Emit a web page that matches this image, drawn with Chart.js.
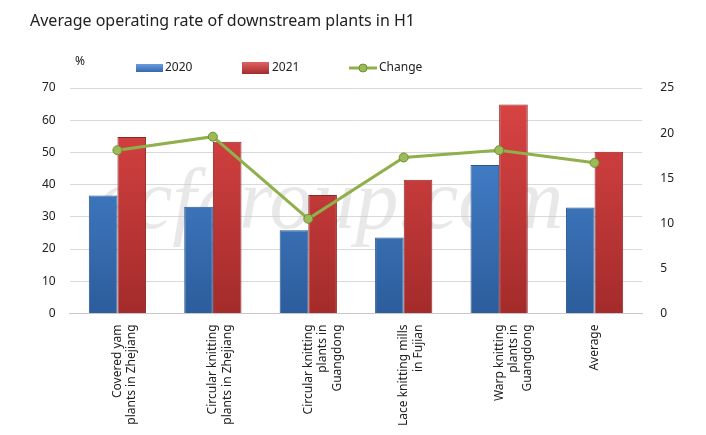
<!DOCTYPE html>
<html>
<head>
<meta charset="utf-8">
<script src="https://cdn.jsdelivr.net/npm/chart.js@4/dist/chart.umd.min.js"></script>
<style>
  body { margin: 0; background: #fff; }
  #wrap { width: 706px; height: 435px; position: relative; }
</style>
</head>
<body>
<div id="wrap"><canvas id="opChart"></canvas></div>
<script>
// values
const categories = [
  ["Covered yam", "plants in Zhejiang"],
  ["Circular knitting", "plants in Zhejiang"],
  ["Circular knitting", "plants in", "Guangdong"],
  ["Lace knitting mills", "in Fujian"],
  ["Warp knitting", "plants in", "Guangdong"],
  ["Average"]
];
const rate2020 = [36.6, 33.1, 25.8, 23.6, 46.1, 32.9];
const rate2021 = [54.8, 53.3, 36.8, 41.5, 64.9, 50.2];
const change = [18.1, 19.6, 10.5, 17.3, 18.1, 16.7];
const leftTicks = [0, 10, 20, 30, 40, 50, 60, 70];
const rightTicks = [0, 5, 10, 15, 20, 25];

const font = "'Noto Sans', 'DejaVu Sans', sans-serif";

function barFill(top, bottom) {
  return (ctx) => {
    const area = ctx.chart.chartArea;
    if (!area) return bottom;
    const g = ctx.chart.ctx.createLinearGradient(0, area.top, 0, area.bottom);
    g.addColorStop(0, top);
    g.addColorStop(1, bottom);
    return g;
  };
}

// title, "%" and the legend, plus the faint watermark
const extras = {
  id: "extras",
  beforeDatasetsDraw(chart) {
    const c = chart.ctx;
    c.save();
    c.font = "italic 86px 'Liberation Serif', serif";
    c.fillStyle = "rgba(205,205,205,0.45)";
    c.textBaseline = "alphabetic";
    c.fillText("ecfgroup.com", 96, 228);
    c.restore();
  },
  afterDraw(chart) {
    const c = chart.ctx;
    c.save();
    c.fillStyle = "#222";
    c.font = "16px " + font;
    c.textBaseline = "alphabetic";
    c.fillText("Average operating rate of downstream plants in H1", 30, 26);

    c.font = "12px " + font;
    c.textBaseline = "middle";
    c.fillText("%", 75, 62);

    const y = 68;
    // 2020
    let g = c.createLinearGradient(0, y - 5, 0, y + 5);
    g.addColorStop(0, "#6ea3e6"); g.addColorStop(1, "#2f63a6");
    c.fillStyle = g; c.fillRect(136, y - 4, 27, 8);
    c.fillStyle = "#222"; c.fillText("2020", 165, y);
    // 2021
    g = c.createLinearGradient(0, y - 6, 0, y + 6);
    g.addColorStop(0, "#e06262"); g.addColorStop(1, "#a52b2b");
    c.fillStyle = g; c.fillRect(242, y - 6, 27, 12);
    c.fillStyle = "#222"; c.fillText("2021", 272, y);
    // Change
    c.strokeStyle = "#8fb04a"; c.lineWidth = 3;
    c.beginPath(); c.moveTo(349, y); c.lineTo(377, y); c.stroke();
    c.beginPath(); c.arc(363, y, 4, 0, Math.PI * 2);
    c.fillStyle = "#9bbb59"; c.fill();
    c.strokeStyle = "#6f8f2f"; c.lineWidth = 1; c.stroke();
    c.fillStyle = "#222"; c.fillText("Change", 379, y);
    c.restore();
  }
};

new Chart(document.getElementById("opChart"), {
  data: {
    labels: categories,
    datasets: [
      {
        type: "line",
        label: "Change",
        data: change,
        yAxisID: "y1",
        borderColor: "#8fb04a",
        borderWidth: 3,
        pointRadius: 4.5,
        pointBackgroundColor: "#9bbb59",
        pointBorderColor: "#6f8f2f",
        pointBorderWidth: 1,
        tension: 0,
        order: 0
      },
      {
        type: "bar",
        label: "2020",
        data: rate2020,
        yAxisID: "y",
        backgroundColor: barFill("#4b8ad8", "#2c5d9c"),
        borderColor: "#2a5690",
        borderWidth: 1,
        categoryPercentage: 0.6,
        barPercentage: 1,
        order: 1
      },
      {
        type: "bar",
        label: "2021",
        data: rate2021,
        yAxisID: "y",
        backgroundColor: barFill("#dc4545", "#a42b2b"),
        borderColor: "#8e2626",
        borderWidth: 1,
        categoryPercentage: 0.6,
        barPercentage: 1,
        order: 1
      }
    ]
  },
  options: {
    responsive: true,
    maintainAspectRatio: false,
    animation: false,
    layout: { padding: { top: 88, left: 28, right: 22, bottom: 6 } },
    plugins: {
      legend: { display: false },
      title: { display: false },
      tooltip: { enabled: false }
    },
    scales: {
      x: {
        grid: { display: false },
        border: { color: "#c8c8c8" },
        ticks: {
          color: "#222",
          font: { family: font, size: 12 },
          minRotation: 90,
          maxRotation: 90,
          autoSkip: false
        }
      },
      y: {
        position: "left",
        min: leftTicks[0],
        max: leftTicks[leftTicks.length - 1],
        afterBuildTicks: (axis) => { axis.ticks = leftTicks.map(v => ({ value: v })); },
        grid: { color: "#d9d9d9", drawTicks: false },
        border: { display: false },
        ticks: { color: "#222", padding: 14, font: { family: font, size: 12 } }
      },
      y1: {
        position: "right",
        min: rightTicks[0],
        max: rightTicks[rightTicks.length - 1],
        afterBuildTicks: (axis) => { axis.ticks = rightTicks.map(v => ({ value: v })); },
        grid: { display: false },
        border: { display: false },
        ticks: { color: "#222", padding: 10, font: { family: font, size: 12 } }
      }
    }
  },
  plugins: [extras]
});
</script>
</body>
</html>
